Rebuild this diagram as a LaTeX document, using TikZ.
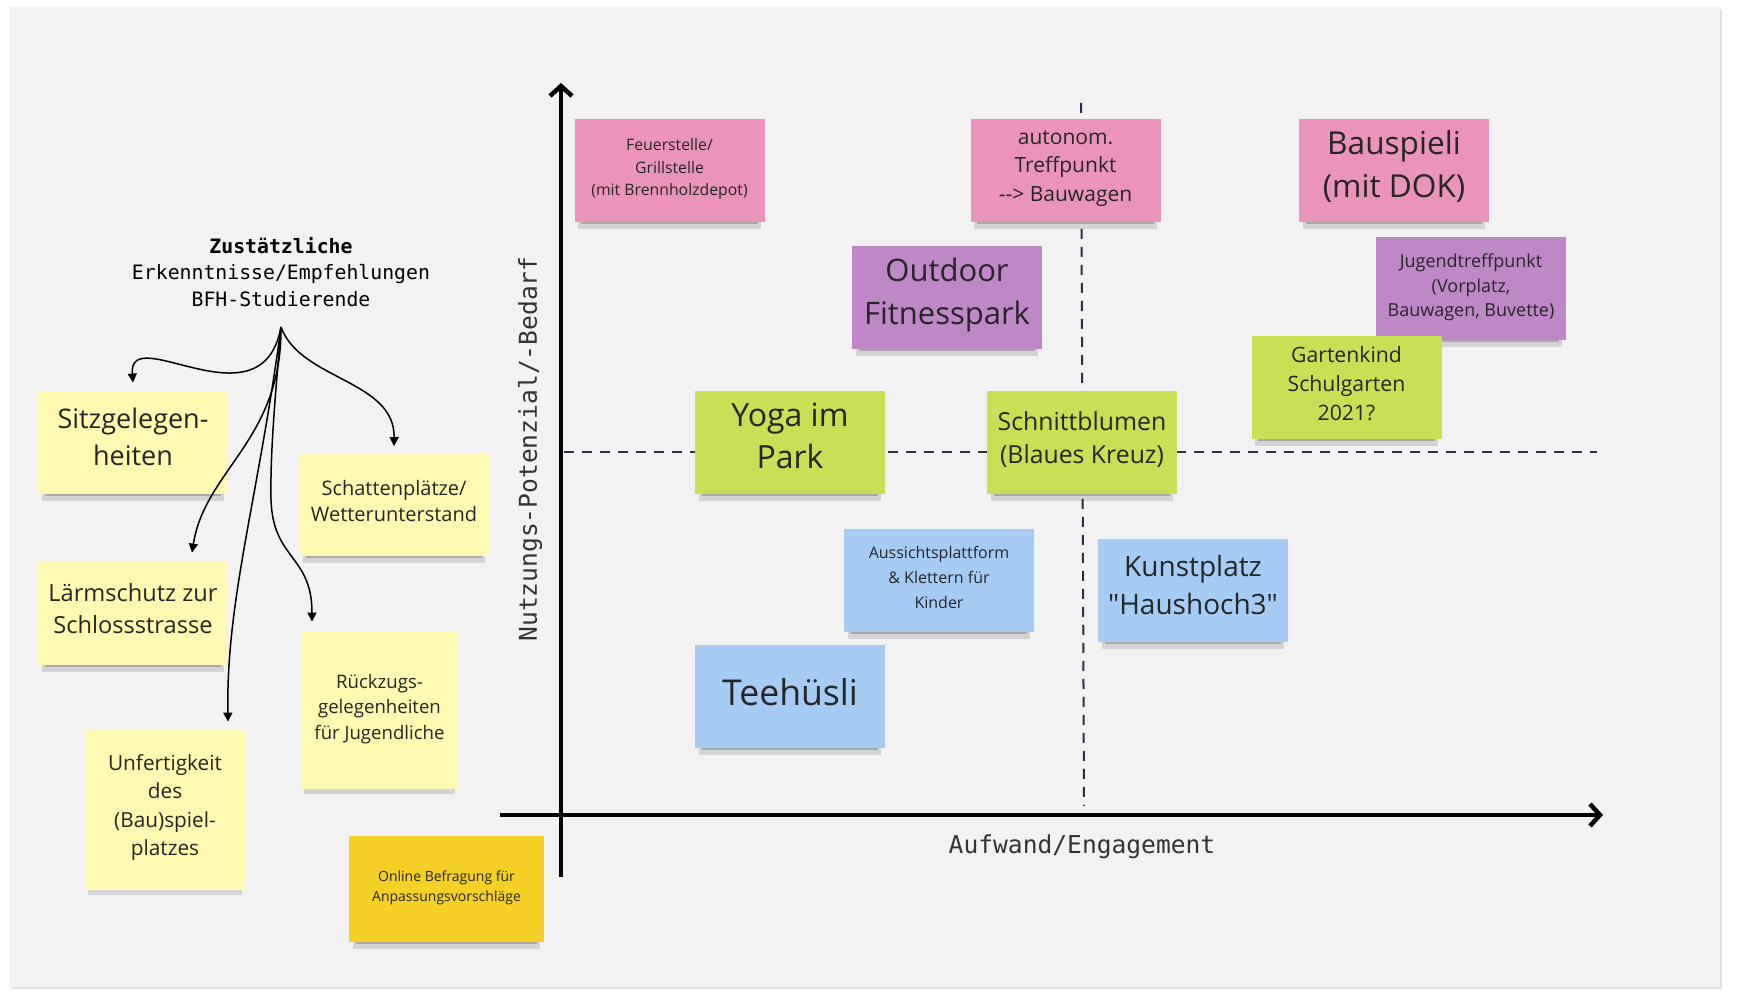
\documentclass[tikz,border=0pt]{standalone}
\usepackage{fontspec}
\setmainfont{Open Sans}[Ligatures=TeXOff]
\setmonofont{DejaVu Sans Mono}
\usetikzlibrary{arrows.meta,shadows}
\definecolor{panel}{rgb}{0.949,0.949,0.949}
\definecolor{pink}{HTML}{EA94BB}
\definecolor{violet}{HTML}{BE88C7}
\definecolor{lime}{HTML}{C9DF56}
\definecolor{skyblue}{HTML}{A6CCF5}
\definecolor{paleyellow}{HTML}{FFF9B1}
\definecolor{gold}{HTML}{F5D128}
\definecolor{dashgray}{HTML}{2B2E45}
\newcommand{\notestrut}{\rule[-0.42em]{0pt}{1.37em}}

\begin{document}
\begin{tikzpicture}[x=50pt,y=50pt,
  note/.style={minimum width=95pt,minimum height=51.5pt,align=center,inner sep=2pt,text=black!85,
    execute at begin node=\notestrut,execute at end node=\notestrut,
    general shadow={fill=black,opacity=0.12,shadow scale=0.96,shadow yshift=-4.5pt},
    general shadow={fill=black,opacity=0.2,shadow scale=0.93,shadow yshift=-3pt}},
  tree/.style={-{Triangle[length=4.5pt,width=4.5pt]},line width=0.75pt},
  axis/.style={-{Straight Barb[length=5pt,width=11pt]},line width=2.25pt},
  quad/.style={dash pattern=on 5pt off 4pt,line width=1pt,dashgray}]

% background panel
\fill[white] (0,0) rectangle (17.38,9.99);
\fill[black!12] (0.11,0.10) rectangle (17.22,9.90);
\fill[panel] (0.09,0.12) rectangle (17.20,9.92);

% quadrant lines
\draw[quad] (5.64,5.47) -- (15.97,5.47);
\draw[quad] (10.81,8.96) -- (10.84,1.93);

% axes
\draw[axis] (5.61,1.22) -- (5.61,9.16);
\draw[axis] (5.00,1.84) -- (16.03,1.84);
\node[font=\ttfamily\fontsize{12.3}{14}\selectfont,text=black!80,rotate=90] (ylabel) at (5.30,5.50) {Nutzungs-Potenzial/-Bedarf};
\node[font=\ttfamily\fontsize{12.3}{14}\selectfont,text=black!80] (xlabel) at (10.82,1.52) {Aufwand/Engagement};

% top row
\node[note,fill=pink,font=\fontsize{7.9}{11.3}\selectfont] (feuer) at (6.695,8.285) {Feuerstelle/\\Grillstelle\\(mit Brennholzdepot)};
\node[note,fill=pink,font=\fontsize{10.5}{14.4}\selectfont] (autonom) at (10.655,8.285) {autonom.\\Treffpunkt\\--> Bauwagen};
\node[note,fill=pink,font=\fontsize{15.8}{21.6}\selectfont] (bauspieli) at (13.94,8.285) {Bauspieli\\(mit DOK)};
\node[note,fill=violet,font=\fontsize{15.5}{21.6}\selectfont] (outdoor) at (9.47,7.015) {Outdoor\\Fitnesspark};
\node[note,fill=violet,font=\fontsize{9}{12.2}\selectfont] (jugend) at (14.71,7.10) {Jugendtreffpunkt\\(Vorplatz,\\Bauwagen, Buvette)};
\node[note,fill=lime,font=\fontsize{10.6}{14.7}\selectfont] (garten) at (13.465,6.11) {Gartenkind\\Schulgarten\\2021?};

% middle row
\node[note,fill=lime,font=\fontsize{16}{21}\selectfont] (yoga) at (7.90,5.565) {Yoga im\\Park};
\node[note,fill=lime,font=\fontsize{12.4}{16.6}\selectfont] (schnitt) at (10.82,5.565) {Schnittblumen\\(Blaues Kreuz)};

% bottom row
\node[note,fill=skyblue,font=\fontsize{8}{12.5}\selectfont] (aussicht) at (9.39,4.185) {Aussichtsplattform\\\& Klettern für\\Kinder};
\node[note,fill=skyblue,font=\fontsize{14}{18.8}\selectfont] (kunst) at (11.93,4.08) {Kunstplatz\\"Haushoch3"};
\node[note,fill=skyblue,font=\fontsize{17.8}{22}\selectfont] (tee) at (7.90,3.025) {Teehüsli};

% left side notes
\node[note,fill=paleyellow,font=\fontsize{13.5}{18.3}\selectfont] (sitz) at (1.33,5.565) {Sitzgelegen-\\heiten};
\node[note,fill=paleyellow,font=\fontsize{10}{13.3}\selectfont] (schatten) at (3.94,4.94) {Schattenplätze/\\Wetterunterstand};
\node[note,fill=paleyellow,font=\fontsize{11.8}{16}\selectfont] (laerm) at (1.33,3.855) {Lärmschutz zur\\Schlossstrasse};
\node[note,fill=paleyellow,minimum width=78.5pt,minimum height=78.5pt,font=\fontsize{9.3}{12.7}\selectfont] (rueckzug) at (3.795,2.885) {Rückzugs-\\gelegenheiten\\für Jugendliche};
\node[note,fill=paleyellow,minimum width=80pt,minimum height=80.5pt,font=\fontsize{10.4}{14.2}\selectfont] (unfertig) at (1.65,1.895) {Unfertigkeit\\des\\(Bau)spiel-\\platzes};
\node[note,fill=gold,minimum width=97.5pt,minimum height=53pt,font=\fontsize{7}{10}\selectfont] (online) at (4.465,1.10) {Online Befragung für\\Anpassungsvorschläge};

% title and tree
\node[font=\ttfamily\fontsize{9.9}{13.3}\selectfont,align=center] (title) at (2.81,7.27) {\textbf{Zustätzliche}\\Erkenntnisse/Empfehlungen\\BFH-Studierende};
\coordinate (root) at (2.81,6.72);
\draw[tree] (root) .. controls (2.62,5.69) and (1.28,6.79) .. ([yshift=4pt]sitz.north);
\draw[tree] (root) .. controls (3.00,6.19) and (3.95,6.19) .. ([yshift=3.5pt]schatten.north);
\draw[tree] (root) .. controls (2.82,5.59) and (2.05,5.29) .. ([xshift=29.5pt,yshift=4.5pt]laerm.north);
\draw[tree] (root) .. controls (2.58,4.99) and (2.26,3.99) .. ([xshift=31.5pt,yshift=3.5pt]unfertig.north);
\draw[tree] (root) .. controls (2.76,6.09) and (2.70,5.49) .. (2.71,4.99)
  .. controls (2.73,4.39) and (3.12,4.44) .. ([xshift=-33.75pt,yshift=5pt]rueckzug.north);
\end{tikzpicture}
\end{document}
